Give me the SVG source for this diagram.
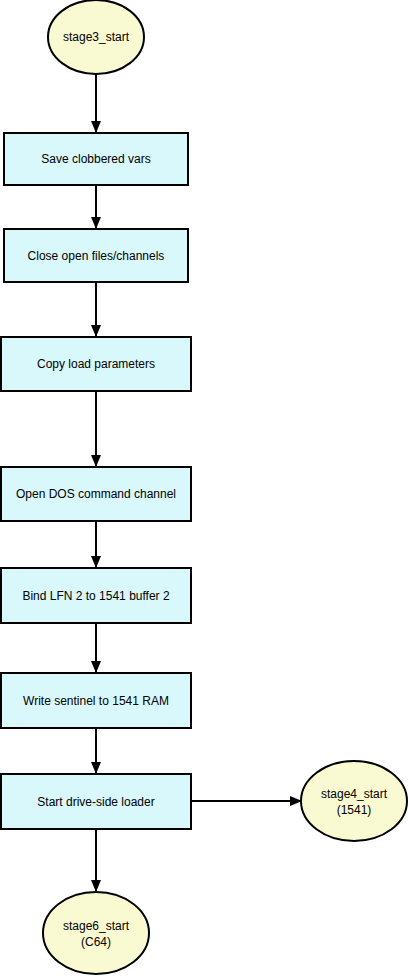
<svg xmlns="http://www.w3.org/2000/svg" width="409" height="976" viewBox="0 0 409 976">
<style>
.box{fill:#d9f8fc;stroke:#000;stroke-width:2}
.ell{fill:#fafad2;stroke:#000;stroke-width:2}
.lbl{font-family:"Liberation Sans",Arial,sans-serif;font-size:12px;fill:#000;text-anchor:middle}
.edge{stroke:#000;stroke-width:2;fill:none}
</style>
<defs>
<marker id="ah" markerWidth="12" markerHeight="10" refX="12" refY="5" orient="auto" markerUnits="userSpaceOnUse">
<path d="M0,0 L12,5 L0,10 Z" fill="#000"/>
</marker>
</defs>
<rect width="409" height="976" fill="#fff"/>
<g id="connectors">
<line class="edge" x1="96" y1="74" x2="96" y2="133" marker-end="url(#ah)"/>
<line class="edge" x1="96" y1="185" x2="96" y2="229" marker-end="url(#ah)"/>
<line class="edge" x1="96" y1="282" x2="96" y2="337" marker-end="url(#ah)"/>
<line class="edge" x1="96" y1="391" x2="96" y2="467" marker-end="url(#ah)"/>
<line class="edge" x1="96" y1="521" x2="96" y2="568" marker-end="url(#ah)"/>
<line class="edge" x1="96" y1="623" x2="96" y2="673" marker-end="url(#ah)"/>
<line class="edge" x1="96" y1="728" x2="96" y2="774" marker-end="url(#ah)"/>
<line class="edge" x1="191" y1="801" x2="302" y2="801" marker-end="url(#ah)"/>
<line class="edge" x1="96" y1="829" x2="96" y2="892" marker-end="url(#ah)"/>
</g>
<g id="stage3_start">
<ellipse class="ell" cx="96" cy="37" rx="48" ry="37"/>
<text class="lbl" x="96" y="41">stage3_start</text>
</g>
<g id="save">
<rect class="box" x="4" y="133" width="184" height="52"/>
<text class="lbl" x="96" y="163">Save clobbered vars</text>
</g>
<g id="close">
<rect class="box" x="4" y="229" width="184" height="53"/>
<text class="lbl" x="96" y="260">Close open files/channels</text>
</g>
<g id="copy">
<rect class="box" x="1" y="337" width="190" height="54"/>
<text class="lbl" x="96" y="368">Copy load parameters</text>
</g>
<g id="open">
<rect class="box" x="1" y="467" width="190" height="54"/>
<text class="lbl" x="96" y="498">Open DOS command channel</text>
</g>
<g id="bind">
<rect class="box" x="1" y="568" width="190" height="55"/>
<text class="lbl" x="96" y="600">Bind LFN 2 to 1541 buffer 2</text>
</g>
<g id="write">
<rect class="box" x="1" y="673" width="190" height="55"/>
<text class="lbl" x="96" y="705">Write sentinel to 1541 RAM</text>
</g>
<g id="start">
<rect class="box" x="1" y="774" width="190" height="55"/>
<text class="lbl" x="96" y="806">Start drive-side loader</text>
</g>
<g id="stage4_start">
<ellipse class="ell" cx="354" cy="801" rx="53" ry="40"/>
<text class="lbl" x="354" y="798">stage4_start</text>
<text class="lbl" x="354" y="814">(1541)</text>
</g>
<g id="stage6_start">
<ellipse class="ell" cx="96" cy="933" rx="53" ry="41"/>
<text class="lbl" x="96" y="930">stage6_start</text>
<text class="lbl" x="96" y="946">(C64)</text>
</g>
</svg>
